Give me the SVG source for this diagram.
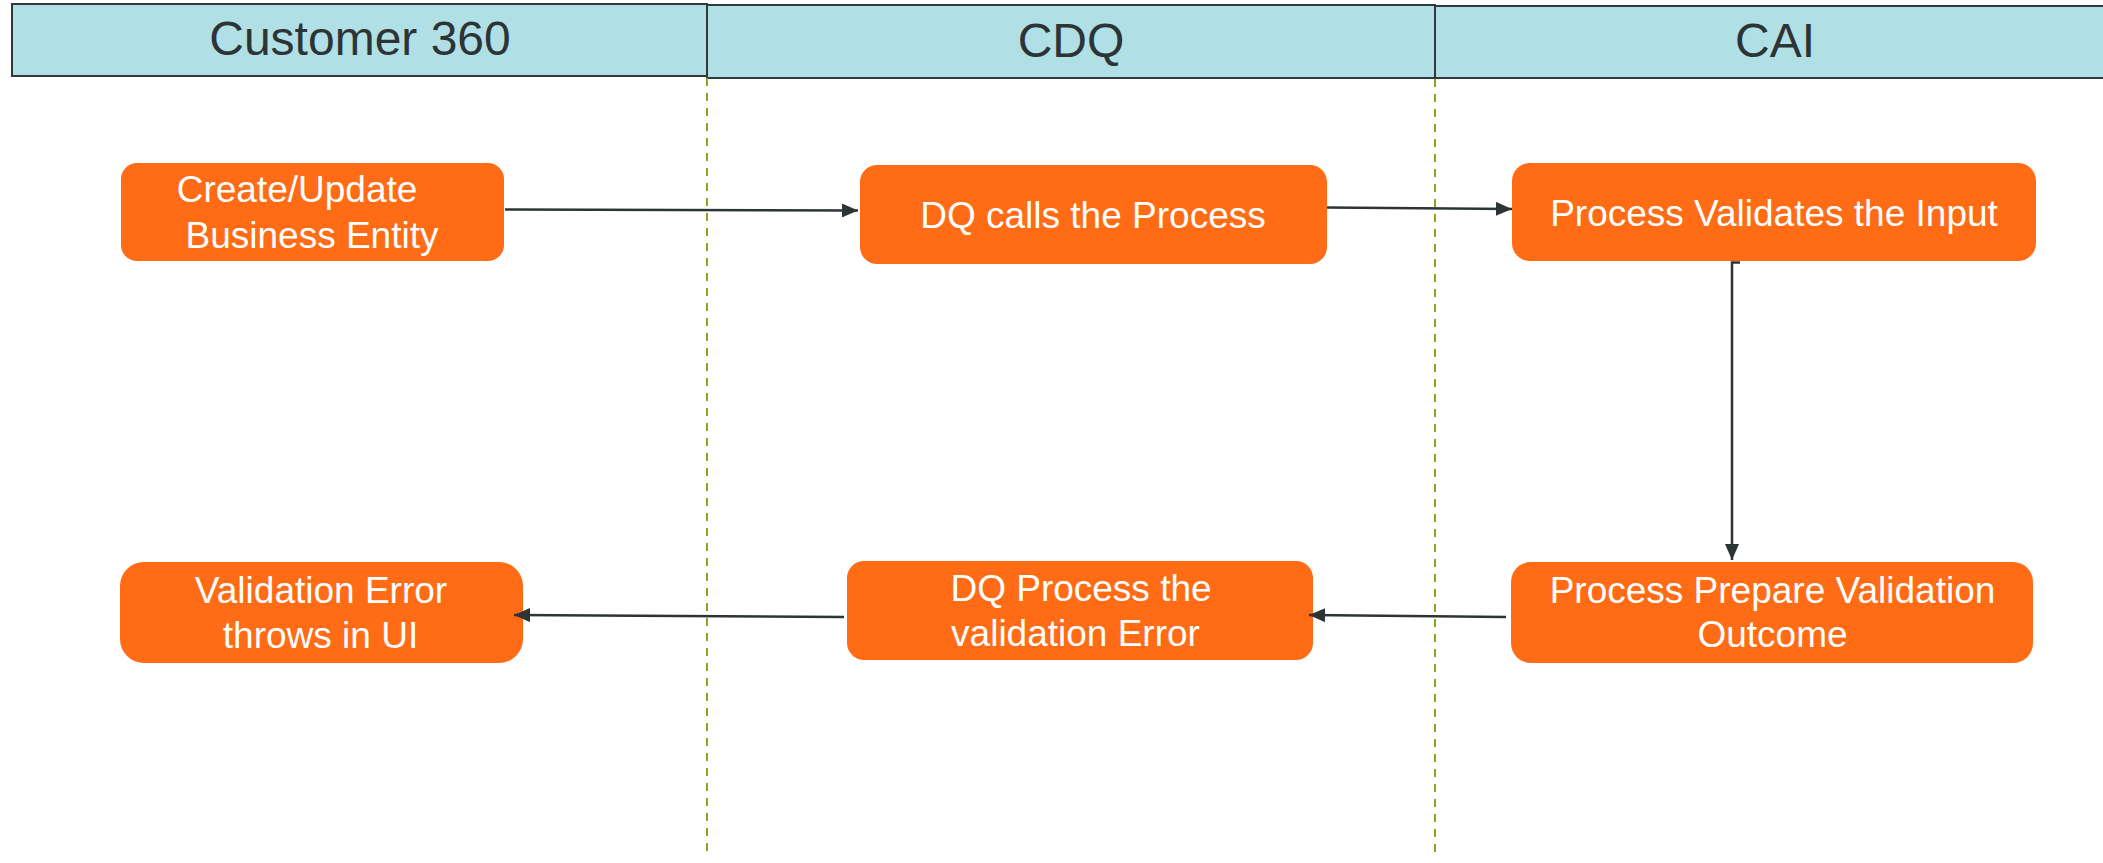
<svg xmlns="http://www.w3.org/2000/svg" width="2103" height="863" viewBox="0 0 2103 863">
<style>
.hdr{fill:#b0e0e6;stroke:#2f3a3e;stroke-width:2}
.htxt{font-family:"Liberation Sans",Arial,sans-serif;font-size:48px;fill:#2d3436;text-anchor:middle}
.node{fill:#ff6c15}
.ntxt{font-family:"Liberation Sans",Arial,sans-serif;font-size:37px;fill:#ffffff;text-anchor:middle}
.lane{stroke:#8aa61c;stroke-width:2;stroke-dasharray:8 7;fill:none}
.conn{stroke:#2d3436;stroke-width:2.5;fill:none}
</style>
<defs>
<marker id="arr" viewBox="0 0 16 14" refX="16" refY="7" markerWidth="16" markerHeight="14" markerUnits="userSpaceOnUse" orient="auto">
<path d="M0,0 L16,7 L0,14 Z" fill="#2d3436"/>
</marker>
</defs>
<rect width="2103" height="863" fill="#ffffff"/>
<g id="lanes">
<g id="lane-customer360">
<rect class="hdr" x="12" y="4" width="695" height="72"/>
<text class="htxt" x="360" y="55">Customer 360</text>
</g>
<g id="lane-cdq">
<rect class="hdr" x="707" y="5" width="728" height="73"/>
<text class="htxt" x="1071" y="57">CDQ</text>
</g>
<g id="lane-cai">
<rect class="hdr" x="1435" y="6" width="680" height="72"/>
<text class="htxt" x="1775" y="57">CAI</text>
</g>
<line class="lane" x1="707" y1="78" x2="707" y2="854"/>
<line class="lane" x1="1435" y1="79" x2="1435" y2="854"/>
</g>
<g id="n1">
<rect class="node" x="121" y="163" width="383" height="98" rx="16"/>
<text class="ntxt" x="297" y="202">Create/Update</text>
<text class="ntxt" x="312" y="248">Business Entity</text>
</g>
<g id="n2">
<rect class="node" x="860" y="165" width="467" height="99" rx="17"/>
<text class="ntxt" x="1093" y="228">DQ calls the Process</text>
</g>
<g id="n3">
<rect class="node" x="1512" y="163" width="524" height="98" rx="18"/>
<text class="ntxt" x="1774" y="226">Process Validates the Input</text>
</g>
<g id="n4">
<rect class="node" x="1511" y="562" width="522" height="101" rx="20"/>
<text class="ntxt" x="1772.5" y="603">Process Prepare Validation</text>
<text class="ntxt" x="1772.5" y="647">Outcome</text>
</g>
<g id="n5">
<rect class="node" x="847" y="561" width="466" height="99" rx="17"/>
<text class="ntxt" x="1081" y="601">DQ Process the</text>
<text class="ntxt" x="1075.5" y="646">validation Error</text>
</g>
<g id="n6">
<rect class="node" x="120" y="562" width="403" height="101" rx="24"/>
<text class="ntxt" x="321" y="603">Validation Error</text>
<text class="ntxt" x="320.5" y="648">throws in UI</text>
</g>
<g id="connectors">
<path class="conn" d="M505,209.5 L858,210.5" marker-end="url(#arr)"/>
<path class="conn" d="M1327,207.5 L1512,209" marker-end="url(#arr)"/>
<path class="conn" d="M1740,262.5 L1732,262.5 L1732,560" marker-end="url(#arr)"/>
<path class="conn" d="M1506,617 L1309,615" marker-end="url(#arr)"/>
<path class="conn" d="M844,617 L514,615" marker-end="url(#arr)"/>
</g>
</svg>
